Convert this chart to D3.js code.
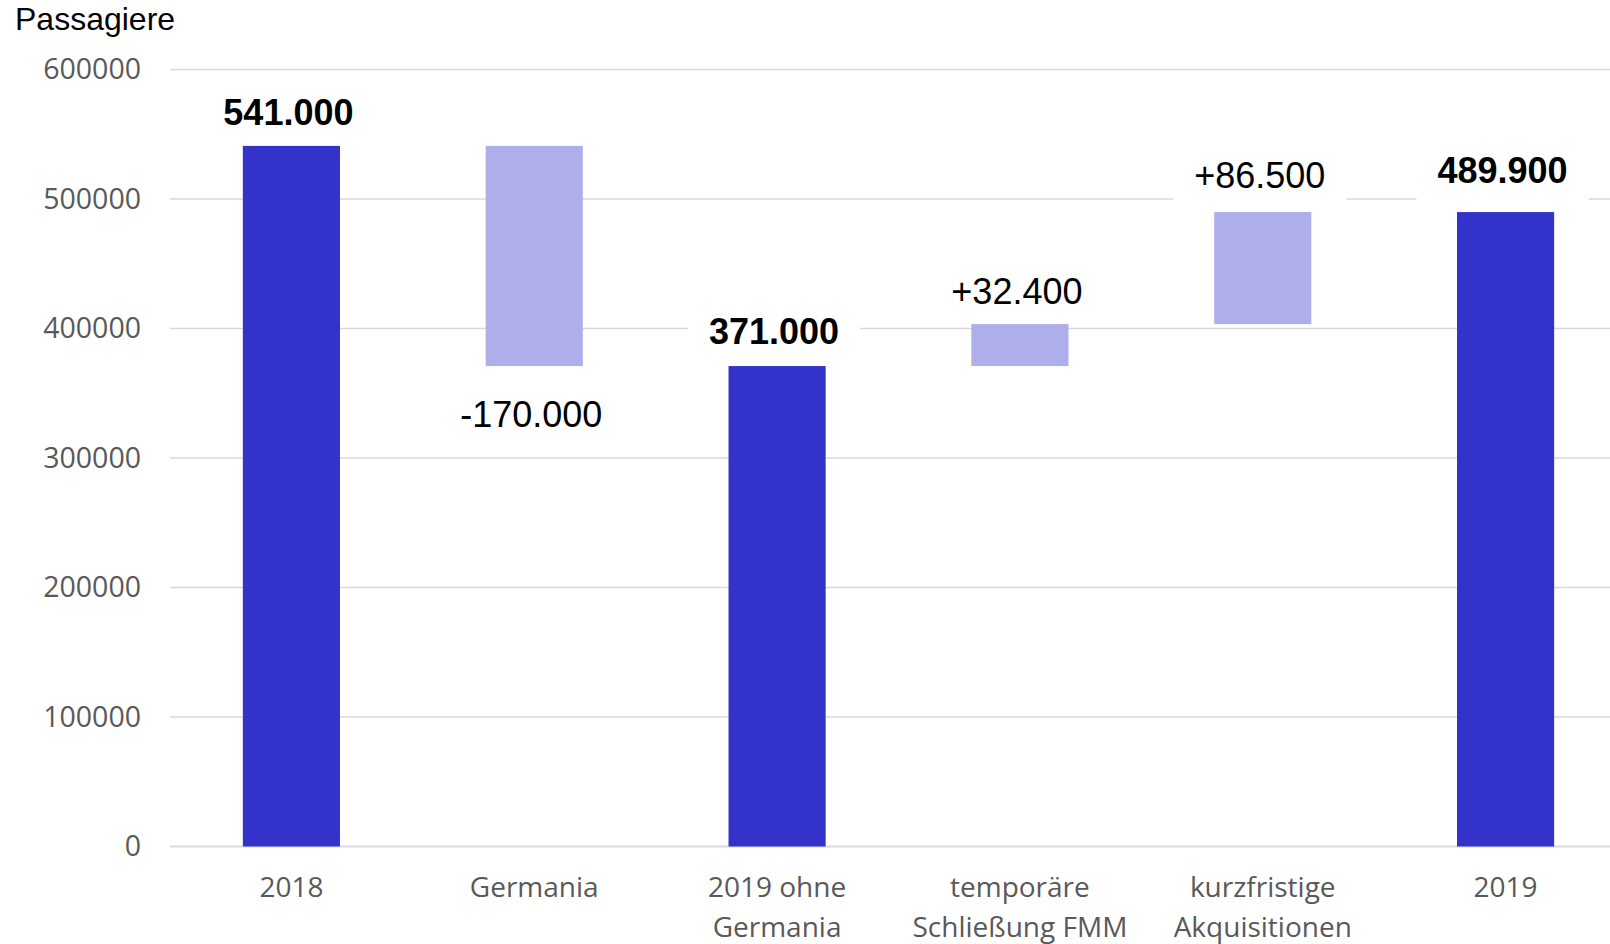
<!DOCTYPE html>
<html>
<head>
<meta charset="utf-8">
<script src="https://cdn.jsdelivr.net/npm/d3@7"></script>
<style>
    body { margin: 0; background: #fff; }
    svg { display: block; }
</style>
</head>
<body>
<div id="chart"></div>
<script>
var categories = [["2018"], ["Germania"], ["2019 ohne", "Germania"], ["temporäre", "Schließung FMM"], ["kurzfristige", "Akquisitionen"], ["2019"]];
var values = [541000, -170000, 371000, 32400, 86500, 489900];
var isTotal = [true, false, true, false, false, true];
var yTicks = [0, 100000, 200000, 300000, 400000, 500000, 600000];
var yTitle = "Passagiere";

// distance of each value label from its bar edge (labels were placed by hand)
var labelGap = [21, 61, 22, 20, 24, 29];

var de = d3.formatLocale({decimal: ",", thousands: ".", grouping: [3], currency: ["", " €"], minus: "-"});
var fmtTotal = de.format(",");
var fmtDelta = de.format("+,");

function draw() {
    var width = 1610, height = 944;
    var svg = d3.select("#chart").append("svg")
        .attr("width", width)
        .attr("height", height);

    // running totals for the waterfall
    var rows = [];
    var run = 0;
    values.forEach(function(v, i) {
        var start, end;
        if (isTotal[i]) { start = 0; end = v; run = v; }
        else { start = run; end = run + v; run = end; }
        rows.push({i: i, v: v, start: start, end: end, total: isTotal[i]});
    });

    var x = d3.scaleBand()
        .domain(d3.range(categories.length))
        .range([170, 1627])
        .paddingInner(0.6)
        .paddingOuter(0.3);
    var y = d3.scaleLinear()
        .domain([0, 600000])
        .range([846.5, 69.5]);

    // grid
    svg.append("g").selectAll("line")
        .data(yTicks)
        .enter().append("line")
        .attr("x1", 170).attr("x2", width)
        .attr("y1", function(d) { return y(d); })
        .attr("y2", function(d) { return y(d); })
        .attr("stroke", "#d9d9d9")
        .attr("stroke-width", function(d) { return d === 0 ? 2 : 1.5; });

    // y axis labels
    var yAxis = svg.append("g")
        .attr("transform", "translate(141,0)")
        .call(d3.axisLeft(y).tickValues(yTicks).tickFormat(d3.format("d")).tickSize(0).tickPadding(0));
    yAxis.select(".domain").remove();
    yAxis.selectAll("text")
        .attr("font-family", "Open Sans")
        .attr("font-size", 28.5)
        .attr("fill", "#595959");

    svg.append("text")
        .attr("x", 15).attr("y", 30)
        .attr("font-family", "Liberation Sans, Arial, sans-serif")
        .attr("font-size", 32)
        .attr("fill", "#000")
        .text(yTitle);

    // bars
    svg.append("g").selectAll("rect")
        .data(rows)
        .enter().append("rect")
        .attr("x", function(d) { return x(d.i); })
        .attr("width", x.bandwidth())
        .attr("y", function(d) { return y(Math.max(d.start, d.end)); })
        .attr("height", function(d) { return Math.abs(y(d.start) - y(d.end)); })
        .attr("fill", function(d) { return d.total ? "#3333cc" : "#aeaeea"; });

    // category labels
    var xl = svg.append("g");
    categories.forEach(function(lines, i) {
        var t = xl.append("text")
            .attr("text-anchor", "middle")
            .attr("font-family", "Open Sans")
            .attr("font-size", 28)
            .attr("fill", "#595959");
        lines.forEach(function(line, j) {
            t.append("tspan")
                .attr("x", x(i) + x.bandwidth() / 2)
                .attr("y", 897 + j * 40)
                .text(line);
        });
    });

    // value labels with white boxes
    var lab = svg.append("g");
    rows.forEach(function(d) {
        var cx = x(d.i) + x.bandwidth() / 2 - 3;
        var top = y(Math.max(d.start, d.end));
        var bottom = y(Math.min(d.start, d.end));
        var by = d.v < 0 ? bottom + labelGap[d.i] : top - labelGap[d.i];
        var g = lab.append("g");
        var box = g.append("rect").attr("fill", "#fff");
        var t = g.append("text")
            .attr("x", cx).attr("y", by)
            .attr("text-anchor", "middle")
            .attr("font-family", "Liberation Sans, Arial, sans-serif")
            .attr("font-size", 36)
            .attr("font-weight", d.total ? "bold" : "normal")
            .attr("fill", "#000")
            .text(d.total ? fmtTotal(d.v) : fmtDelta(d.v));
        var bb = t.node().getBBox();
        box.attr("x", bb.x - 21).attr("width", bb.width + 42)
            .attr("y", by - 38).attr("height", 56);
    });
}
draw();
</script>
</body>
</html>
